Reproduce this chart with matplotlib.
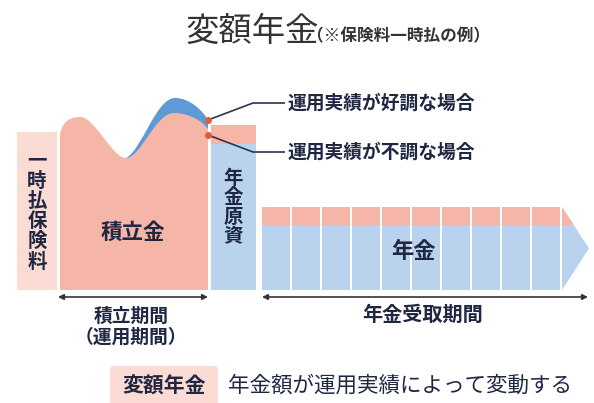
import matplotlib
matplotlib.use("Agg")
import matplotlib.pyplot as plt
from matplotlib.path import Path
from matplotlib.patches import PathPatch, Rectangle, Polygon, FancyBboxPatch

plt.rcParams['font.family'] = ['Noto Sans CJK JP', 'DejaVu Sans']

# ---------------- data (diagram values, pixel units of the 594x403 canvas) ----------------
title = "変額年金"
subtitle = "（※保険料一時払の例）"
segment_labels = ["一時払保険料", "積立金", "年金原資", "年金"]
period_labels = ["積立期間", "（運用期間）", "年金受取期間"]
case_labels = ["運用実績が好調な場合", "運用実績が不調な場合"]
legend_key = "変額年金"
legend_text = "年金額が運用実績によって変動する"

premium_top = 132                     # 一時払保険料 column top
reserve_curve = [(60, 134), (63, 121), (70, 117), (80, 117),      # 積立金 (pink) top, cubic bezier
                 (95, 117), (112, 158), (126, 158),
                 (141, 158), (155, 113), (174, 113),
                 (190, 113), (203, 122), (208, 129)]
good_curve = [(126, 158), (142, 150), (156, 98), (175, 98),          # good-performance top
              (190, 98), (203, 111), (208, 120)]
principal_pink_top = 125              # 年金原資 tops
principal_blue_top = 144
n_pension_bars = 10
pension_pink_top = 207
pension_blue_top = 225
baseline = 290

# ---------------- styles ----------------
PINK = "#f5b5a7"
LIGHT_PINK = "#fadcd4"
BLUE = "#b9d3ee"
MID_BLUE = "#5d9bd6"
DOT = "#e8583c"
NAVY = "#1f2742"
LINE = "#2b3450"

W, H = 594, 403
fig = plt.figure(figsize=(W / 100, H / 100), dpi=100)
ax = fig.add_axes([0, 0, 1, 1])
ax.set_xlim(0, W)
ax.set_ylim(H, 0)
ax.axis("off")

# title
ax.text(185, 31, title, fontsize=24, color="#333333", ha="left", va="center")
ax.text(307, 36, subtitle, fontsize=12, color="#333333", ha="left", va="center", fontweight="bold")

# 一時払保険料 column
ax.add_patch(Rectangle((17, premium_top), 40, baseline - premium_top, color=LIGHT_PINK, lw=0))

# good-performance (blue) band: area under good curve, pink covers below
gverts = list(good_curve) + [(208, baseline), (126, baseline), good_curve[0]]
gcodes = [Path.MOVETO] + [Path.CURVE4] * (len(good_curve) - 1) + [Path.LINETO, Path.LINETO, Path.CLOSEPOLY]
ax.add_patch(PathPatch(Path(gverts, gcodes), facecolor=MID_BLUE, edgecolor="none"))

rverts = list(reserve_curve) + [(208, baseline), (60, baseline), reserve_curve[0]]
rcodes = [Path.MOVETO] + [Path.CURVE4] * (len(reserve_curve) - 1) + [Path.LINETO, Path.LINETO, Path.CLOSEPOLY]
ax.add_patch(PathPatch(Path(rverts, rcodes), facecolor=PINK, edgecolor="none"))

# 年金原資 column
ax.add_patch(Rectangle((211, principal_pink_top), 45, principal_blue_top - principal_pink_top, color=PINK, lw=0))
ax.add_patch(Rectangle((211, principal_blue_top), 45, baseline - principal_blue_top, color=BLUE, lw=0))

# pension bars
x0, bw, gap = 262, 30, 2
for i in range(n_pension_bars):
    x = x0 + i * bw
    ax.add_patch(Rectangle((x, pension_pink_top), bw - gap, pension_blue_top - pension_pink_top, color=PINK, lw=0))
    ax.add_patch(Rectangle((x, pension_blue_top), bw - gap, baseline - pension_blue_top, color=BLUE, lw=0))
ax_x = x0 + n_pension_bars * bw
tip = (589, (pension_pink_top + baseline) / 2)
ax.add_patch(Polygon([(ax_x, pension_pink_top), tip, (ax_x, baseline)], closed=True, color=BLUE, lw=0))
xi = ax_x + (tip[0] - ax_x) * (pension_blue_top - pension_pink_top) / (tip[1] - pension_pink_top)
ax.add_patch(Polygon([(ax_x, pension_pink_top), (xi, pension_blue_top), (ax_x, pension_blue_top)],
                     closed=True, color=PINK, lw=0))

# segment labels
for i, ch in enumerate(segment_labels[0]):
    ax.text(37, 161 + i * 20.2, ch, fontsize=14, color=NAVY, ha="center", va="center", fontweight="bold")
ax.text(133, 232, segment_labels[1], fontsize=15.5, color=NAVY, ha="center", va="center", fontweight="bold")
for i, ch in enumerate(segment_labels[2]):
    ax.text(233, 178 + i * 19.7, ch, fontsize=14, color=NAVY, ha="center", va="center", fontweight="bold")
ax.text(413, 252, segment_labels[3], fontsize=16, color=NAVY, ha="center", va="center", fontweight="bold")

# performance annotations
ax.plot([208, 253, 285], [120, 103, 103], color=LINE, lw=1.2, solid_capstyle="butt")
ax.plot([208, 253, 285], [135, 152, 152], color=LINE, lw=1.2, solid_capstyle="butt")
ax.plot([208, 208], [120, 135], "o", color=DOT, ms=5, mec="none")
ax.text(288, 103, case_labels[0], fontsize=13.5, color=NAVY, ha="left", va="center", fontweight="bold")
ax.text(288, 152, case_labels[1], fontsize=13.5, color=NAVY, ha="left", va="center", fontweight="bold")

# period arrows
arrow = dict(arrowstyle="<|-|>", color="#333333", lw=1.2, mutation_scale=8, shrinkA=0, shrinkB=0)
ax.annotate("", xy=(58, 297), xytext=(208, 297), arrowprops=arrow)
ax.annotate("", xy=(262, 297), xytext=(588, 297), arrowprops=arrow)
ax.text(131, 316, period_labels[0], fontsize=13.5, color=NAVY, ha="center", va="center", fontweight="bold")
ax.text(131, 337, period_labels[1], fontsize=13.5, color=NAVY, ha="center", va="center", fontweight="bold")
ax.text(423, 314, period_labels[2], fontsize=14.5, color=NAVY, ha="center", va="center", fontweight="bold")

# legend
ax.add_patch(FancyBboxPatch((110, 366), 108, 40, boxstyle="round,pad=0,rounding_size=4",
                            facecolor=LIGHT_PINK, edgecolor="none"))
ax.text(164, 386, legend_key, fontsize=15, color=NAVY, ha="center", va="center", fontweight="bold")
ax.text(228, 386, legend_text, fontsize=15.5, color=NAVY, ha="left", va="center")

fig.savefig("out.png", dpi=100)
